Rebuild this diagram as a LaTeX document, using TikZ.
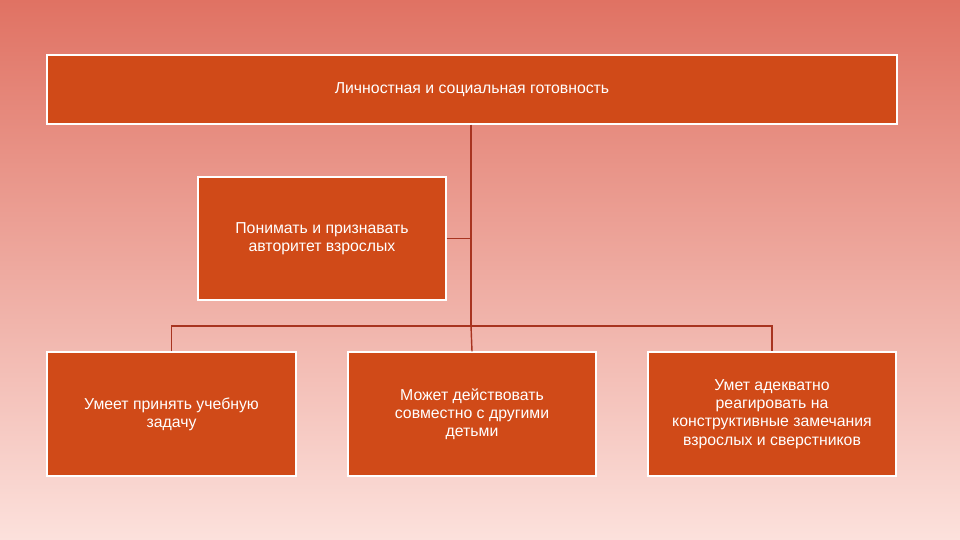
\documentclass[tikz,border=0pt]{standalone}
\usepackage{fontspec}
\setmainfont{Liberation Sans}
\usetikzlibrary{positioning}
\definecolor{boxfill}{HTML}{D04A18}
\definecolor{linkred}{HTML}{A83420}
\definecolor{bgtop}{HTML}{E07263}
\definecolor{bgbot}{HTML}{FCE1DC}
\tikzset{
  goalbox/.style={draw=white, line width=1.2pt, fill=boxfill, text=white,
    align=center, font=\fontsize{13.5}{15.5}\selectfont, inner sep=2pt},
  link/.style={draw=linkred, line width=1.2pt}
}
\begin{document}
\begin{tikzpicture}[x=0.03cm, y=-0.03cm]
    \shade[top color=bgtop, bottom color=bgbot] (0,0) rectangle (960,540);
    \useasboundingbox (0,0) rectangle (960,540);
    \node[goalbox, minimum width=850*0.03cm, minimum height=69*0.03cm] (top) at (472,89.5) {Личностная и социальная готовность};
    \node[goalbox, minimum width=248*0.03cm, minimum height=123*0.03cm] (auth) at (322,238.5) {Понимать и признавать\\авторитет взрослых};
    \node[goalbox, minimum width=249*0.03cm, minimum height=124*0.03cm] (task) at (171.5,414) {Умеет принять учебную\\задачу};
    \node[goalbox, minimum width=248*0.03cm, minimum height=124*0.03cm] (joint) at (472,414) {Может действовать\\совместно с другими\\детьми};
    \node[goalbox, minimum width=248*0.03cm, minimum height=124*0.03cm] (react) at (772,414) {Умет адекватно\\реагировать на\\конструктивные замечания\\взрослых и сверстников};
    \coordinate (hub) at (471,326);
    \draw[link] (top.south -| hub) -- (hub);
    \draw[link] (auth.east) -- (auth.east -| hub);
    \draw[link] (task.north) |- (hub) -| (react.north);
    \draw[link] (hub) -- (joint.north);
\end{tikzpicture}
\end{document}
